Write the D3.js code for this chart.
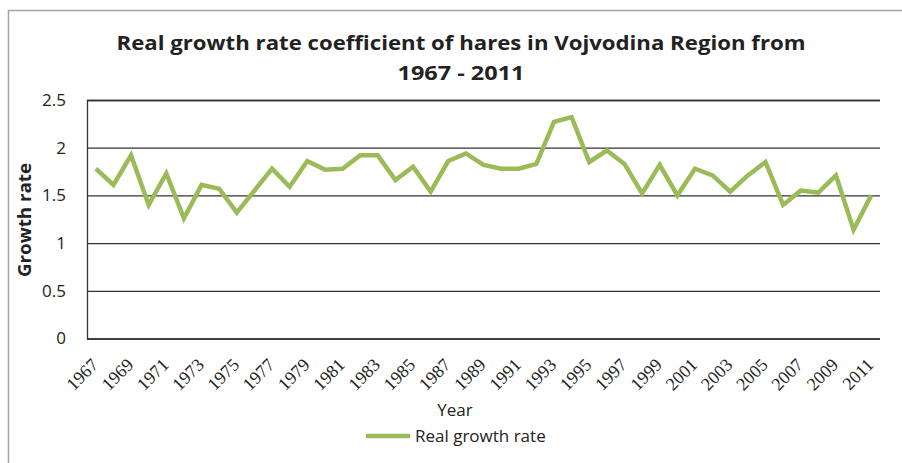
<!DOCTYPE html>
<html><head><meta charset="utf-8">
<script src="https://cdn.jsdelivr.net/npm/d3@7"></script>
<style>
html,body{margin:0;padding:0;background:#fff;}
svg{display:block;}
</style></head>
<body>
<svg id="chart" width="902" height="463"></svg>
<script>
const years = d3.range(1967, 2012);
const growthRate = [1.78,1.61,1.92,1.40,1.73,1.26,1.61,1.57,1.32,1.55,
                    1.78,1.59,1.86,1.77,1.78,1.92,1.92,1.66,1.80,1.54,
                    1.86,1.94,1.82,1.78,1.78,1.83,2.27,2.32,1.85,1.97,
                    1.83,1.52,1.82,1.50,1.78,1.71,1.54,1.71,1.85,1.40,
                    1.55,1.53,1.71,1.14,1.50];
const yTicks = [0, 0.5, 1, 1.5, 2, 2.5];
const yTickLabels = ["0", "0.5", "1", "1.5", "2", "2.5"];
const xTickLabels = years.filter(y => (y - 1967) % 2 === 0).map(String);
const titleLines = ["Real growth rate coefficient of hares in Vojvodina Region from", "1967 - 2011"];
const yTitle = "Growth rate";
const xTitle = "Year";
const seriesName = "Real growth rate";

const svg = d3.select("#chart");
const sans = "'Open Sans', 'Noto Sans', sans-serif";
const plotL = 87, plotR = 880, plotT = 100, plotB = 338.5;

// outer frame (left and top edges visible)
svg.append("path").attr("d", "M8.5,463 V10.5 H902").attr("fill", "none")
  .attr("stroke", "#a6a6a6").attr("stroke-width", 1.5);

const x = d3.scaleBand().domain(years.map(String)).range([plotL, plotR]);
const y = d3.scaleLinear().domain([0, 2.5]).range([plotB, plotT]);

// gridlines
const yAxis = d3.axisLeft(y).tickValues(yTicks).tickSize(-(plotR - plotL))
  .tickFormat((d, i) => yTickLabels[i]).tickPadding(21);
const gy = svg.append("g").attr("transform", `translate(${plotL},0)`).call(yAxis);
gy.select(".domain").attr("stroke", "#333").attr("stroke-width", 1.3);
gy.selectAll(".tick line").attr("stroke", "#333").attr("stroke-width", 1.3);
gy.selectAll(".tick text").attr("font-family", sans).attr("font-size", 17)
  .attr("fill", "#222");

// x axis labels
const xAxis = d3.axisBottom(x).tickValues(xTickLabels).tickSize(0);
const gx = svg.append("g").attr("transform", `translate(0,${plotB})`).call(xAxis);
gx.select(".domain").remove();
gx.selectAll(".tick text")
  .attr("font-family", "'Liberation Serif', 'DejaVu Serif', serif")
  .attr("font-size", 18).attr("fill", "#222")
  .attr("text-anchor", "end")
  .attr("transform", "translate(-1,23) rotate(-45)")
  .attr("x", 0).attr("y", 0).attr("dy", "0.35em");

// line
const line = d3.line()
  .x((d, i) => x(String(years[i])) + x.bandwidth() / 2)
  .y(d => y(d));
svg.append("path").datum(growthRate).attr("d", line)
  .attr("fill", "none").attr("stroke", "#9bbb59").attr("stroke-width", 4.5)
  .attr("stroke-linejoin", "miter");

// title
svg.selectAll("text.title").data(titleLines).enter().append("text")
  .attr("class", "title")
  .attr("x", 461).attr("y", (d, i) => 50 + i * 30)
  .attr("text-anchor", "middle")
  .attr("font-family", sans).attr("font-weight", "bold").attr("font-size", 20)
  .attr("fill", "#222")
  .attr("textLength", (d, i) => i === 0 ? 689 : 127)
  .attr("lengthAdjust", "spacingAndGlyphs")
  .text(d => d);

// y title
svg.append("text")
  .attr("transform", "translate(31,220) rotate(-90)")
  .attr("text-anchor", "middle")
  .attr("font-family", sans).attr("font-weight", "bold").attr("font-size", 18)
  .attr("fill", "#222")
  .attr("textLength", 114).attr("lengthAdjust", "spacingAndGlyphs")
  .text(yTitle);

// x title
svg.append("text").attr("x", 455).attr("y", 416).attr("text-anchor", "middle")
  .attr("font-family", sans).attr("font-size", 17).attr("fill", "#222")
  .text(xTitle);

// legend
svg.append("line").attr("x1", 366).attr("x2", 410).attr("y1", 436).attr("y2", 436)
  .attr("stroke", "#9bbb59").attr("stroke-width", 4.5);
svg.append("text").attr("x", 415).attr("y", 442)
  .attr("font-family", sans).attr("font-size", 17).attr("fill", "#222")
  .text(seriesName);
</script>
</body></html>
